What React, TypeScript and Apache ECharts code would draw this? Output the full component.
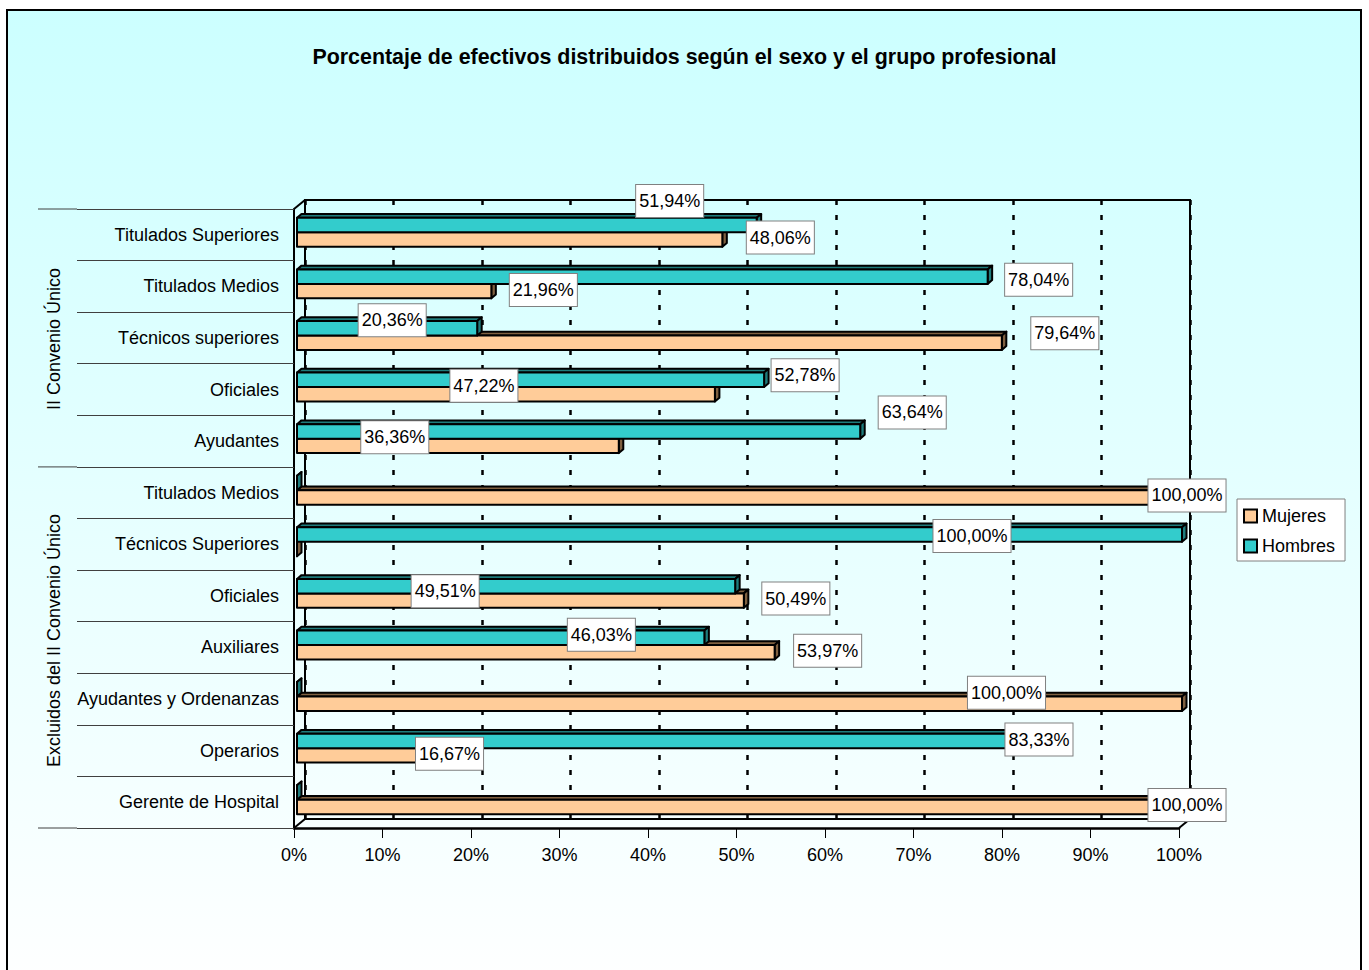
import React, { useEffect, useRef } from "react";
import * as echarts from "echarts";

// ---------- data ----------
const chartTitle =
  "Porcentaje de efectivos distribuidos según el sexo y el grupo profesional";
const categories = [
  "Titulados Superiores",
  "Titulados Medios",
  "Técnicos superiores",
  "Oficiales",
  "Ayudantes",
  "Titulados Medios",
  "Técnicos Superiores",
  "Oficiales",
  "Auxiliares",
  "Ayudantes y Ordenanzas",
  "Operarios",
  "Gerente de Hospital",
];
const groupNames = ["II Convenio Único", "Excluidos del II Convenio Único"];
const groupStarts = [0, 5];
const groupEnds = [5, 12];
const seriesNames = ["Mujeres", "Hombres"];
const mujeres = [48.06, 21.96, 79.64, 47.22, 36.36, 100, 0, 50.49, 53.97, 100, 16.67, 100];
const hombres = [51.94, 78.04, 20.36, 52.78, 63.64, 0, 100, 49.51, 46.03, 0, 83.33, 0];
const xMin = 0;
const xMax = 100;
const xInterval = 10;

// ---------- styling / layout ----------
const FONT = 'Arial, "Liberation Sans", sans-serif';
const GRID_LEFT = 294;
const GRID_TOP = 209;
const GRID_W = 885;
const GRID_H = 619;
const DEPTH_X = 11;
const DEPTH_Y = -9;
const BAR_FRAC = 0.28;
const BAR_FRONT_DX = 3;
const BAR_FRONT_DY = -2.5;
const BAR_DEPTH_DX = 4.5;
const BAR_DEPTH_DY = -3.8;
const COLORS = {
  mujeresFront: "#FFCC99",
  mujeresDark: "#7F6040",
  hombresFront: "#33CCCC",
  hombresDark: "#1E7C7C",
};
// label nudges (pixels, relative to the bar's front end centre)
const mujeresLabelNudge = [
  [58, -2], [52, -1], [63, -9.5], [-231, -8.5], [-224, -8.6], [5, -2],
  [0, 0], [52, -2], [53, -1.5], [-175.5, -11], [5, -1.7], [5, -2],
];
const hombresLabelNudge = [
  [-87, -24], [51, 3], [-85, -8], [41, -4.5], [52, -19], [0, 0],
  [-210, 1.5], [-290, 5], [-103, -3], [0, 0], [4.5, -1.4], [0, 0],
];
const groupLabelNudge = [1, -7];

function fmt(v: number) {
  return v.toFixed(2).replace(".", ",") + "%";
}

function makeRender(isUpper: boolean, front: string, dark: string, nudges: number[][]) {
  return (params: any, api: any) => {
    const i = api.value(1);
    const v = api.value(0);
    const base = api.coord([0, i]);
    const end = api.coord([v, i]);
    const band = api.size([0, 1])[1];
    const h = band * BAR_FRAC;
    const yc = base[1] + BAR_FRONT_DY;
    const yt = isUpper ? yc - h : yc;
    const yb = yt + h;
    const xa = base[0] + BAR_FRONT_DX;
    const xb = end[0] + BAR_FRONT_DX;
    const dx = BAR_DEPTH_DX;
    const dy = BAR_DEPTH_DY;
    const stroke = { stroke: "#000", lineWidth: 2, lineJoin: "round" };
    const children: any[] = [
      {
        type: "polygon",
        shape: { points: [[xa, yt], [xb, yt], [xb + dx, yt + dy], [xa + dx, yt + dy]] },
        style: { fill: dark, ...stroke },
      },
      {
        type: "polygon",
        shape: { points: [[xb, yt], [xb + dx, yt + dy], [xb + dx, yb + dy], [xb, yb]] },
        style: { fill: dark, ...stroke },
      },
      {
        type: "rect",
        shape: { x: xa, y: yt, width: Math.max(0, xb - xa), height: h },
        style: { fill: front, ...stroke },
      },
    ];
    if (v > 0) {
      const n = nudges[i] || [0, 0];
      children.push({
        type: "text",
        z2: 100,
        x: xb + n[0],
        y: (yt + yb) / 2 + n[1],
        style: {
          text: fmt(v),
          fill: "#000",
          fontSize: 18,
          fontFamily: FONT,
          align: "center",
          verticalAlign: "middle",
          lineHeight: 20,
          backgroundColor: "#fff",
          borderColor: "#808080",
          borderWidth: 1,
          padding: [6, 3, 6, 3],
        },
      });
    }
    return { type: "group", children };
  };
}

export default function App() {
  const ref = useRef<HTMLDivElement>(null);
  useEffect(() => {
    document.body.style.margin = "0";
    const chart = echarts.init(ref.current!, null, { renderer: "svg" });
    const band = GRID_H / categories.length;
    const groupGraphics: any[] = [];
    const boundaries = [0, ...groupEnds];
    boundaries.forEach((b) => {
      const y = GRID_TOP + band * b;
      groupGraphics.push({
        type: "line",
        shape: { x1: 38, y1: y, x2: 77, y2: y },
        style: { stroke: "#404040", lineWidth: 1 },
      });
    });
    groupNames.forEach((g, k) => {
      groupGraphics.push({
        type: "text",
        x: 54,
        y: GRID_TOP + (band * (groupStarts[k] + groupEnds[k])) / 2 + groupLabelNudge[k],
        rotation: Math.PI / 2,
        style: {
          text: g,
          fill: "#000",
          fontSize: 18,
          fontFamily: FONT,
          align: "center",
          verticalAlign: "middle",
        },
      });
    });
    const frameStyle = { stroke: "#000", lineWidth: 2 };
    const bottom = GRID_TOP + GRID_H;
    const right = GRID_LEFT + GRID_W;
    const option: any = {
      animation: false,
      backgroundColor: "transparent",
      title: {
        text: chartTitle,
        left: "center",
        top: 46,
        padding: 0,
        textStyle: { fontSize: 21.4, fontWeight: "bold", fontFamily: FONT, color: "#000" },
      },
      legend: {
        orient: "vertical",
        left: 1237,
        top: 499,
        padding: [7, 10, 5, 6],
        itemGap: 10,
        itemWidth: 13,
        itemHeight: 13,
        icon: "rect",
        selectedMode: false,
        backgroundColor: "#fff",
        borderColor: "#808080",
        borderWidth: 1,
        borderRadius: 0,
        textStyle: { fontSize: 18, fontFamily: FONT, color: "#000", lineHeight: 20 },
        itemStyle: { borderColor: "#000", borderWidth: 2 },
        data: seriesNames,
      },
      graphic: [
        {
          type: "rect",
          z: -10,
          shape: { x: 7, y: 10, width: 1354, height: 990 },
          style: {
            fill: new echarts.graphic.LinearGradient(0, 0, 0, 1, [
              { offset: 0, color: "#CCFFFF" },
              { offset: 1, color: "#FFFFFF" },
            ]),
            stroke: "#000",
            lineWidth: 2,
          },
        },
        {
          type: "line",
          shape: { x1: GRID_LEFT, y1: GRID_TOP, x2: GRID_LEFT + DEPTH_X, y2: GRID_TOP + DEPTH_Y },
          style: frameStyle,
        },
        {
          type: "line",
          shape: { x1: GRID_LEFT, y1: bottom, x2: GRID_LEFT + DEPTH_X, y2: bottom + DEPTH_Y },
          style: frameStyle,
        },
        {
          type: "line",
          shape: { x1: right, y1: bottom, x2: right + DEPTH_X, y2: bottom + DEPTH_Y },
          style: frameStyle,
        },
        ...groupGraphics,
      ],
      grid: [
        {
          left: GRID_LEFT,
          top: GRID_TOP,
          width: GRID_W,
          height: GRID_H,
          containLabel: false,
          outerBoundsMode: "none",
        },
        {
          left: GRID_LEFT + DEPTH_X,
          top: GRID_TOP + DEPTH_Y,
          width: GRID_W,
          height: GRID_H,
          containLabel: false,
          outerBoundsMode: "none",
          show: true,
          borderColor: "#000",
          borderWidth: 2,
          backgroundColor: "transparent",
        },
      ],
      xAxis: [
        {
          type: "value",
          gridIndex: 0,
          min: xMin,
          max: xMax,
          interval: xInterval,
          axisLine: { show: true, lineStyle: { color: "#000", width: 2.5 } },
          axisTick: { show: true, length: 10, lineStyle: { color: "#000", width: 1 } },
          axisLabel: {
            formatter: "{value}%",
            margin: 18,
            fontSize: 18,
            fontFamily: FONT,
            color: "#000",
          },
          splitLine: { show: false },
        },
        {
          type: "value",
          gridIndex: 1,
          min: xMin,
          max: xMax,
          interval: xInterval,
          axisLine: { show: false },
          axisTick: { show: false },
          axisLabel: { show: false },
          splitLine: { show: true, lineStyle: { color: "#000", width: 2.5, type: [5, 10] } },
        },
      ],
      yAxis: [
        {
          type: "category",
          gridIndex: 0,
          inverse: true,
          data: categories,
          axisLine: { show: true, lineStyle: { color: "#000", width: 2 } },
          axisTick: { show: true, interval: 0, length: 217, lineStyle: { color: "#404040", width: 1 } },
          axisLabel: { interval: 0, margin: 15, fontSize: 18, fontFamily: FONT, color: "#000" },
          splitLine: { show: false },
        },
        {
          type: "category",
          gridIndex: 1,
          inverse: true,
          data: categories,
          show: false,
        },
      ],
      series: [
        {
          name: seriesNames[0],
          type: "custom",
          xAxisIndex: 0,
          yAxisIndex: 0,
          clip: false,
          itemStyle: { color: COLORS.mujeresFront },
          encode: { x: 0, y: 1 },
          data: mujeres.map((v, i) => [v, i]),
          renderItem: makeRender(false, COLORS.mujeresFront, COLORS.mujeresDark, mujeresLabelNudge),
        },
        {
          name: seriesNames[1],
          type: "custom",
          xAxisIndex: 0,
          yAxisIndex: 0,
          clip: false,
          itemStyle: { color: COLORS.hombresFront },
          encode: { x: 0, y: 1 },
          data: hombres.map((v, i) => [v, i]),
          renderItem: makeRender(true, COLORS.hombresFront, COLORS.hombresDark, hombresLabelNudge),
        },
      ],
    };
    chart.setOption(option);
    return () => chart.dispose();
  }, []);
  return <div ref={ref} style={{ width: 1369, height: 970 }} />;
}
